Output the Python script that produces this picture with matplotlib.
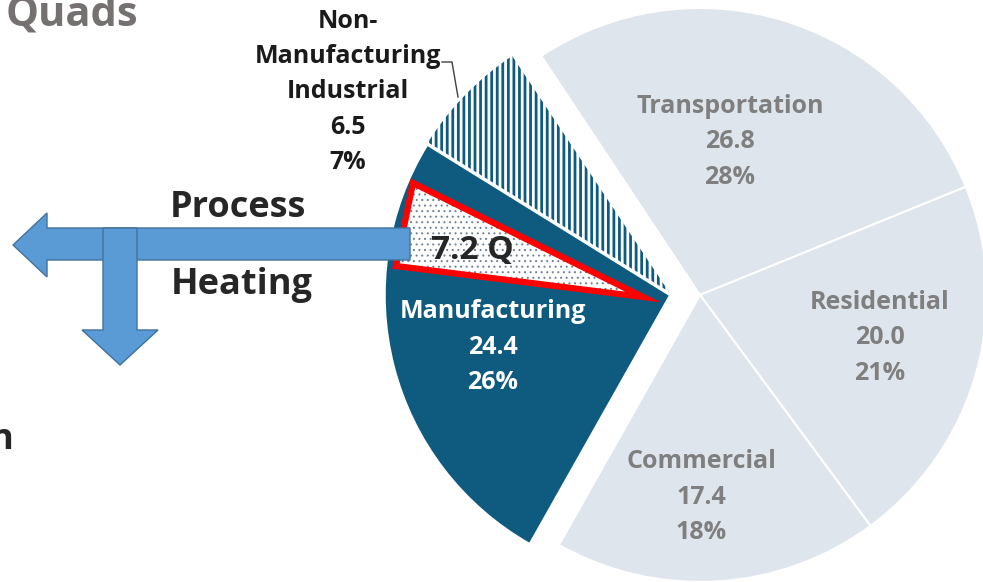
import matplotlib
matplotlib.use("Agg")
import matplotlib.pyplot as plt
from matplotlib.patches import Polygon

# U.S. energy use by end-use sector (quads)
sectors = ["Transportation", "Residential", "Commercial",
           "Manufacturing", "Non-\nManufacturing\nIndustrial"]
quads = [26.8, 20.0, 17.4, 24.4, 6.5]
process_heating_quads = 7.2
unit_title = "Quads"
arrow_words = ["Process", "Heating"]

FONT = "Open Sans"
DARK = "#0F5B7F"
LIGHT = "#DEE5EC"
GRAY_TXT = "#7F7F7F"
ARROW_FC = "#5B9BD5"
ARROW_EC = "#41719C"

W, H = 983, 582
fig = plt.figure(figsize=(W / 100, H / 100), dpi=100)
ax = fig.add_axes([0, 0, 1, 1])


def iy(y):
    """Convert a row measured from the top edge into data y."""
    return H - y


center = (700, iy(295))
radius = 287
industry_shift = (-29, 0)

colors = [LIGHT, LIGHT, LIGHT, DARK, "white"]
wedges, _ = ax.pie(quads, startangle=123.6, counterclock=False,
                   radius=radius, center=center, colors=colors,
                   wedgeprops=dict(edgecolor="white", linewidth=1.5),
                   frame=True)

# pull the two industrial slices out together
for w in wedges[3:]:
    w.set_center((center[0] + industry_shift[0], center[1] + industry_shift[1]))
wedges[3].set_linewidth(2.5)
wedges[3].set_zorder(2)

nonmfg = wedges[4]
nonmfg.set_edgecolor(DARK)
nonmfg.set_linewidth(0)
nonmfg.set_hatch("|||")
if hasattr(nonmfg, "set_hatch_linewidth"):
    nonmfg.set_hatch_linewidth(2.0)
else:
    plt.rcParams["hatch.linewidth"] = 2.0

ax.set_xlim(0, W)
ax.set_ylim(0, H)
ax.set_aspect("equal")
ax.axis("off")

total = sum(quads)
label_text = [f"{s}\n{v:.1f}\n{v / total * 100:.0f}%" for s, v in zip(sectors, quads)]
label_pos = [(730, 142), (880, 338), (701, 497), (493, 347), (348, 92)]
label_col = [GRAY_TXT, GRAY_TXT, GRAY_TXT, "white", "#1A1A1A"]
for t, (x, y), c in zip(label_text, label_pos, label_col):
    ax.text(x, iy(y), t, ha="center", va="center", color=c, fontsize=18,
            fontweight="bold", family=FONT, linespacing=1.54, zorder=6)

# leader for the non-manufacturing label
ax.plot([442, 452, 458], [iy(62), iy(62), iy(97)], color="#404040", lw=1,
        zorder=6)

# process-heating share inside manufacturing
tri = [(413, iy(183)), (643, iy(297)), (396, iy(266))]
dots = Polygon(tri, closed=True, facecolor="white", edgecolor="#6F8090",
               linewidth=0, hatch="...", zorder=3)
if hasattr(dots, "set_hatch_linewidth"):
    dots.set_hatch_linewidth(0.7)
ax.add_patch(dots)
ax.add_patch(Polygon(tri, closed=True, fill=False, edgecolor="#FF0000",
                     linewidth=4.5, joinstyle="miter", zorder=4))
ax.text(472, iy(250), f"{process_heating_quads:g} Q", ha="center", va="center",
        fontsize=24, fontweight="bold", family=FONT, color="#262626", zorder=7)

# T-shaped arrows
h_arrow = [(13, 245), (47, 213), (47, 228), (410, 228), (410, 260),
           (47, 260), (47, 277)]
v_arrow = [(103, 228), (137, 228), (137, 330), (158, 330), (120, 365),
           (82, 330), (103, 330)]
for pts in (h_arrow, v_arrow):
    ax.add_patch(Polygon([(x, iy(y)) for x, y in pts], closed=True,
                         facecolor=ARROW_FC, edgecolor=ARROW_EC,
                         linewidth=1.0, zorder=5))

ax.text(238, iy(208), arrow_words[0], ha="center", va="center", fontsize=26,
        fontweight="bold", family=FONT, color="#262626")
ax.text(242, iy(285), arrow_words[1], ha="center", va="center", fontsize=26,
        fontweight="bold", family=FONT, color="#262626")

ax.text(72, iy(15), unit_title, ha="center", va="center", fontsize=30,
        fontweight="bold", family=FONT, color="#767171")
ax.text(13, iy(440), "n", ha="right", va="center", fontsize=26,
        fontweight="bold", family=FONT, color="#262626")

fig.savefig("out.png", dpi=100)
